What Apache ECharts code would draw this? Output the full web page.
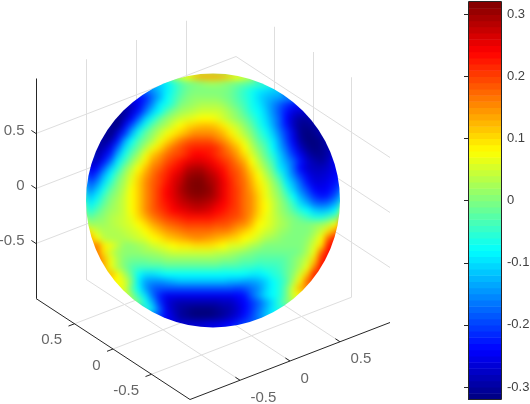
<!DOCTYPE html>
<html>
<head>
<meta charset="utf-8">
<style>
html, body { margin: 0; padding: 0; background: #fff; }
#chart { width: 530px; height: 404px; }
/* sphere sits on its own echarts layer: soften the table cells, then cut to the disc */
#chart canvas[data-zr-dom-id="zr_1"] { filter: blur(3px); clip-path: circle(127px at 213px 200.5px); }
</style>
<script src="https://cdn.jsdelivr.net/npm/echarts@6/dist/echarts.min.js"></script>
</head>
<body>
<div id="chart"></div>
<script>
// values, in hundredths, one row of the sphere per line (top to bottom)
const sphereRows = [
  [3,5,8,11,13,13,13,12,10,8,6,3],
  [-12,-11,-9,-6,-3,-1,0,1,2,2,1,0,-1,-2,-3,-4,-5,-6],
  [-17,-15,-12,-9,-6,-3,-1,0,0,0,0,0,-1,-3,-5,-7,-9,-10,-11,-11],
  [-23,-24,-22,-17,-13,-8,-5,-2,0,1,1,1,1,0,-1,-3,-5,-7,-10,-12,-13,-14,-15,-15],
  [-27,-28,-25,-20,-15,-9,-7,-4,0,1,2,3,3,3,2,0,-2,-4,-7,-9,-12,-15,-18,-21,-23,-23],
  [-29,-31,-27,-23,-17,-11,-8,-3,0,2,3,4,5,5,5,4,2,0,-3,-6,-8,-11,-15,-19,-23,-26,-27,-26],
  [-29,-32,-29,-24,-18,-11,-7,-2,1,3,5,6,7,8,8,7,5,3,1,-1,-4,-7,-10,-14,-18,-24,-28,-30,-30,-28],
  [-31,-32,-25,-19,-12,-7,-2,1,3,6,8,10,11,12,12,11,9,6,4,1,-2,-6,-9,-13,-18,-23,-28,-31,-31,-30],
  [-30,-32,-27,-21,-13,-7,-2,1,4,7,9,11,13,15,15,15,14,12,9,6,3,0,-4,-7,-11,-16,-21,-26,-31,-32,-31,-29],
  [-27,-31,-29,-23,-14,-8,-3,0,3,7,10,13,16,18,19,19,19,17,15,12,9,6,2,-2,-5,-9,-14,-20,-25,-30,-32,-32,-31,-28],
  [-30,-29,-25,-18,-10,-5,-1,3,7,10,14,17,19,21,22,22,22,21,18,15,12,8,4,0,-3,-8,-13,-18,-23,-28,-31,-32,-31,-29],
  [-30,-26,-22,-13,-7,-2,2,7,11,14,17,19,20,22,24,24,23,21,19,17,14,10,6,2,-2,-6,-11,-16,-21,-25,-29,-31,-31,-29],
  [-27,-28,-23,-17,-9,-4,1,5,9,14,16,19,21,23,25,26,26,25,23,21,19,16,13,8,4,0,-4,-10,-14,-18,-23,-27,-29,-30,-28,-24],
  [-26,-24,-18,-11,-6,0,4,8,12,16,18,21,23,25,28,29,29,27,25,23,20,18,15,10,6,2,-2,-9,-12,-18,-24,-27,-28,-28,-27,-25],
  [-23,-20,-13,-8,-2,2,6,10,14,17,20,22,25,27,30,31,31,29,27,24,21,19,16,12,8,4,0,-5,-11,-16,-21,-25,-27,-27,-26,-24],
  [-19,-16,-10,-5,0,3,7,11,15,18,20,23,26,28,31,32,32,30,28,25,22,19,17,13,9,6,2,-2,-9,-13,-18,-23,-26,-26,-25,-23],
  [-16,-12,-7,-2,1,4,8,11,15,18,21,24,26,29,31,32,32,31,28,25,22,20,17,14,10,7,3,0,-6,-11,-16,-20,-24,-25,-24,-21],
  [-12,-9,-4,0,2,5,8,11,15,18,21,24,26,28,30,31,31,30,28,25,22,20,17,15,11,7,4,1,-3,-8,-13,-17,-21,-23,-22,-18],
  [-9,-6,-2,1,3,5,8,11,15,18,21,23,25,27,28,29,29,28,26,24,22,20,17,15,11,8,5,2,-1,-5,-10,-13,-17,-18,-17,-13],
  [-6,-3,0,2,3,5,8,11,15,18,20,22,24,25,26,27,27,26,24,23,21,20,17,15,11,8,5,2,0,-3,-6,-8,-11,-12,-11,-8],
  [-2,0,1,3,4,5,7,10,13,16,18,20,21,22,23,23,23,23,22,21,20,19,17,14,10,7,5,3,1,0,-2,-4,-6,-6,-4,-1],
  [2,2,2,3,4,5,6,8,10,13,15,17,18,19,20,20,20,20,19,19,18,16,15,12,8,7,5,3,2,0,0,0,1,2,4,8],
  [9,5,3,3,3,4,5,6,8,10,12,14,15,16,17,17,17,17,16,16,15,13,11,9,7,5,4,2,1,0,0,0,2,5,10,15],
  [14,8,4,3,3,3,4,5,6,8,9,11,12,13,14,15,15,14,13,12,11,10,8,7,5,3,2,1,0,0,0,1,4,8,18,23],
  [17,9,7,4,1,1,2,3,5,6,7,8,9,9,10,10,10,9,8,6,6,5,3,2,0,0,0,0,0,0,2,6,10,23],
  [17,10,5,2,1,1,1,2,2,3,4,5,5,5,5,5,5,4,4,3,2,1,0,-1,-1,-1,-1,-1,-1,0,3,7,18,24],
  [18,13,7,3,0,-1,-1,-1,0,0,1,1,1,1,1,1,1,1,0,0,-1,-2,-2,-3,-3,-3,-3,-2,0,2,5,11,22,24],
  [14,7,3,0,-3,-4,-4,-4,-4,-3,-3,-3,-3,-3,-3,-3,-3,-4,-4,-4,-5,-5,-6,-5,-5,-4,-2,0,3,7,16,24],
  [13,8,3,-2,-8,-10,-10,-9,-8,-8,-8,-8,-8,-8,-8,-8,-8,-8,-8,-8,-9,-9,-8,-6,-5,-2,1,6,12,23],
  [9,8,6,0,-9,-14,-15,-15,-14,-13,-12,-12,-12,-12,-12,-12,-12,-13,-13,-14,-14,-13,-11,-8,-6,-3,3,9,18,21],
  [7,6,-2,-8,-14,-18,-19,-19,-19,-19,-19,-19,-19,-19,-19,-19,-19,-20,-19,-17,-15,-11,-8,-6,-1,6,13,16],
  [6,1,-5,-10,-17,-22,-25,-25,-25,-25,-25,-25,-25,-25,-25,-25,-24,-23,-18,-14,-10,-8,-6,-1,6,8],
  [2,-1,-7,-13,-21,-26,-28,-29,-29,-29,-29,-29,-29,-28,-28,-26,-24,-21,-18,-14,-10,-5,0,3],
  [-5,-10,-18,-25,-28,-30,-31,-32,-32,-32,-31,-30,-29,-27,-24,-21,-17,-13,-9,-6],
  [-17,-20,-24,-27,-30,-31,-32,-32,-32,-31,-30,-28,-26,-23,-20,-16,-12,-9],
  [-25,-27,-27,-27,-27,-26,-26,-25,-24,-22,-20,-18]
]

// colorbar levels (jet, 64 steps), hundredths
const barLevels = [
  -32,-31,-30,-29,-28,-27,-26,-25,-24,-23,-22,-21,-20,-19,-18,-17,
  -16,-15,-14,-13,-12,-11,-10,-9,-8,-7,-6,-5,-4,-3,-2,-1,
  0,1,2,3,4,5,6,7,8,9,10,11,12,13,14,15,
  16,17,18,19,20,21,22,23,24,25,26,27,28,29,30,31
]
const barTicks = [-0.3, -0.2, -0.1, 0, 0.1, 0.2, 0.3]
const xTicks = [-0.5, 0, 0.5]
const yTicks = [-0.5, 0, 0.5]
const zTicks = [-0.5, 0, 0.5]
const jet = ['#00007f', '#0000ff', '#007fff', '#00ffff', '#7fff7f', '#ffff00', '#ff7f00', '#ff0000', '#7f0000']

// 3d axes -> page pixels
function project(x, y, z) {
  return [213 + x * 100 - y * 77, 200.5 - x * 38.5 - y * 50.5 - z * 110]
}
function seg(a, b) {
  return { coords: [project(a[0], a[1], a[2]), project(b[0], b[1], b[2])] }
}

let gridSegs = []
xTicks.forEach(t => {
  gridSegs.push(seg([t, 1, -1], [t, -1, -1]))
  gridSegs.push(seg([t, 1, -1], [t, 1, 1]))
})
yTicks.forEach(t => {
  gridSegs.push(seg([-1, t, -1], [1, t, -1]))
  gridSegs.push(seg([1, t, -1], [1, t, 1]))
})
zTicks.forEach(t => {
  gridSegs.push(seg([-1, 1, t], [1, 1, t]))
  gridSegs.push(seg([1, 1, t], [1, -1, t]))
})

let axisSegs = [
  seg([-1, 1, -1], [-1, 1, 1]),
  seg([-1, 1, -1], [-1, -1, -1]),
  seg([-1, -1, -1], [1, -1, -1])
]
xTicks.forEach(t => axisSegs.push(seg([t, -1, -1], [t, -0.94, -1])))
yTicks.forEach(t => axisSegs.push(seg([-1, t, -1], [-1.06, t, -1])))
zTicks.forEach(t => axisSegs.push(seg([-1, 1, t], [-1, 1.06, t])))

const tickFont = { fontFamily: 'Liberation Sans', fontSize: 15, color: '#404040' }
function tickLabels(ticks, toPoint, dx, dy, align) {
  return {
    type: 'scatter', xAxisIndex: 0, yAxisIndex: 0, symbolSize: 1, silent: true,
    itemStyle: { color: 'transparent' },
    label: { show: true, position: [dx, dy], align: align, verticalAlign: 'middle', formatter: p => p.value[2], ...tickFont },
    data: ticks.map(t => [...toPoint(t), String(t)])
  }
}

// sphere cells, rows are centred in the 36x36 table
let sphereCells = []
sphereRows.forEach((row, r) => {
  let start = (36 - row.length) / 2
  row.forEach((v, i) => sphereCells.push([start + i, r, v / 100]))
})
let barCells = barLevels.map(v => [0, v / 100, (v + 0.5) / 100])

// grow = extra pixels round a cell, the halo keeps the blur solid up to the disc edge
function sphereCellRenderer(grow) {
  return function (params, api) {
    let p = api.coord([api.value(0), api.value(1)])
    let q = api.coord([api.value(0) + 1, api.value(1) + 1])
    let x = Math.floor(p[0]) - grow, y = Math.floor(p[1]) - grow
    return {
      type: 'rect',
      shape: { x: x, y: y, width: Math.ceil(q[0]) + grow - x, height: Math.ceil(q[1]) + grow - y },
      style: { fill: api.visual('color') }
    }
  }
}
function renderBarCell(params, api) {
  let p = api.coord([0, api.value(1) + 0.01])
  let q = api.coord([1, api.value(1)])
  return {
    type: 'rect',
    shape: { x: p[0], y: p[1], width: q[0] - p[0], height: q[1] - p[1] + 0.5 },
    style: { fill: api.visual('color') }
  }
}

let myChart = echarts.init(document.getElementById('chart'), null, { renderer: 'canvas' })
myChart.setOption({
  animation: false,
  backgroundColor: '#fff',
  grid: [
    { left: 0, top: 0, width: 530, height: 404, outerBoundsMode: 'none' },
    { left: 86, top: 73.5, width: 254, height: 254, outerBoundsMode: 'none' },
    { left: 468, top: 2, width: 33, height: 397.4, outerBoundsMode: 'none' }
  ],
  xAxis: [
    { gridIndex: 0, type: 'value', min: 0, max: 530, show: false },
    { gridIndex: 1, type: 'value', min: 0, max: 36, show: false },
    { gridIndex: 2, type: 'value', min: 0, max: 1, show: false }
  ],
  yAxis: [
    { gridIndex: 0, type: 'value', min: 0, max: 404, inverse: true, show: false },
    { gridIndex: 1, type: 'value', min: 0, max: 36, inverse: true, show: false },
    {
      gridIndex: 2, type: 'value', min: -0.32, max: 0.32, position: 'right', z: 10,
      splitLine: { show: false },
      axisLine: { show: false },
      axisTick: { show: true, inside: true, length: 4, customValues: barTicks, lineStyle: { color: '#262626' } },
      axisLabel: {
        margin: 6, customValues: barTicks, formatter: v => String(v),
        fontFamily: 'Liberation Sans', fontSize: 13, color: '#404040'
      }
    }
  ],
  visualMap: {
    show: false, type: 'continuous', min: -0.32, max: 0.32, dimension: 2,
    seriesIndex: [2, 3, 4], inRange: { color: jet }
  },
  graphic: [{
    type: 'rect', z: 100, silent: true,
    shape: { x: 468.5, y: 1.5, width: 33, height: 398 },
    style: { fill: 'none', stroke: '#262626', lineWidth: 1 }
  }],
  series: [
    {
      type: 'lines', coordinateSystem: 'cartesian2d', xAxisIndex: 0, yAxisIndex: 0, silent: true, z: 1,
      lineStyle: { color: '#dedede', width: 1, opacity: 1 },
      data: gridSegs
    },
    {
      type: 'lines', coordinateSystem: 'cartesian2d', xAxisIndex: 0, yAxisIndex: 0, silent: true, z: 2,
      lineStyle: { color: '#262626', width: 1, opacity: 1 },
      data: axisSegs
    },
    {
      type: 'custom', xAxisIndex: 1, yAxisIndex: 1, zlevel: 1, z: 2, silent: true, progressive: 0, clip: false,
      encode: { x: 0, y: 1 }, renderItem: sphereCellRenderer(12), data: sphereCells
    },
    {
      type: 'custom', xAxisIndex: 1, yAxisIndex: 1, zlevel: 1, z: 3, silent: true, progressive: 0, clip: false,
      encode: { x: 0, y: 1 }, renderItem: sphereCellRenderer(0), data: sphereCells
    },
    {
      type: 'custom', xAxisIndex: 2, yAxisIndex: 2, z: 3, silent: true, progressive: 0,
      encode: { x: 0, y: 1 }, renderItem: renderBarCell, data: barCells
    },
    tickLabels(zTicks, t => project(-1, 1, t), -11, -2, 'right'),
    tickLabels(yTicks, t => project(-1, t, -1), -12, 17, 'right'),
    tickLabels(xTicks, t => project(t, -1, -1), 11, 18, 'left')
  ]
})
</script>
</body>
</html>
